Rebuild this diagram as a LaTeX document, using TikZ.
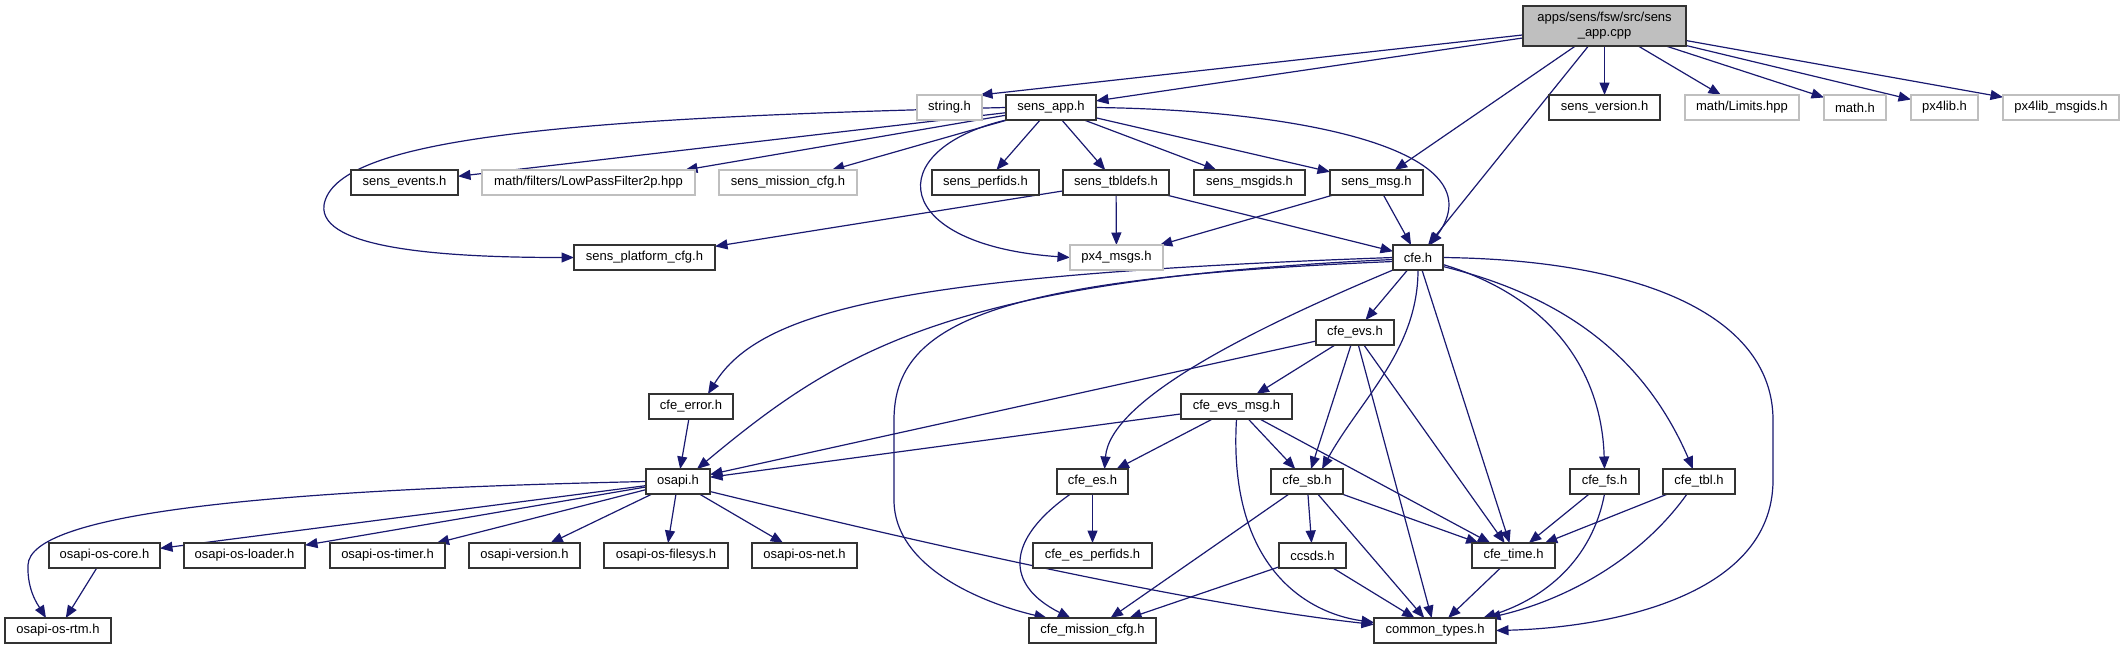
\documentclass[tikz,border=0pt]{standalone}
\usepackage{fontspec}
\setmainfont{Liberation Sans}
\usetikzlibrary{arrows.meta,calc}
\definecolor{edgec}{HTML}{191970}
\definecolor{grayb}{HTML}{BFBFBF}
\definecolor{boxb}{HTML}{333333}
\pgfdeclarelayer{bg}
\pgfsetlayers{bg,main}
\tikzset{
  nb/.style={draw=boxb, line width=1.6pt, fill=white, minimum height=25, inner sep=0pt, outer sep=0pt, font=\fontsize{13}{15}\selectfont},
  ng/.style={nb, draw=grayb},
  e/.style={draw=edgec, line width=1.2pt, -{Triangle[length=12.5pt,width=10pt]}},
}
\begin{document}
\begin{tikzpicture}[x=1pt,y=-1pt]
\useasboundingbox (0,0) rectangle (2124,649);
% rank 0
\node[nb, fill=grayb, minimum width=163, minimum height=40, align=center] (root) at (1604.5,26) {apps/sens/fsw/src/sens\\\_app.cpp};
% rank 1
\node[ng, minimum width=65] (stringh) at (949.5,107.5) {string.h};
\node[nb, minimum width=90] (sapp) at (1051,107.5) {sens\_app.h};
\node[nb, minimum width=111] (sver) at (1604.5,107.5) {sens\_version.h};
\node[ng, minimum width=114] (mlim) at (1742,107.5) {math/Limits.hpp};
\node[ng, minimum width=62] (mathh) at (1855,107.5) {math.h};
\node[ng, minimum width=67] (px4lib) at (1944.5,107.5) {px4lib.h};
\node[ng, minimum width=116] (px4ids) at (2061,107.5) {px4lib\_msgids.h};
% rank 2
\node[nb, minimum width=107] (sevt) at (404.5,182.5) {sens\_events.h};
\node[ng, minimum width=213] (lpf) at (588.5,182.5) {math/filters/LowPassFilter2p.hpp};
\node[ng, minimum width=138] (smis) at (788,182.5) {sens\_mission\_cfg.h};
\node[nb, minimum width=107] (sperf) at (985.5,182.5) {sens\_perfids.h};
\node[nb, minimum width=106] (stbl) at (1116,182.5) {sens\_tbldefs.h};
\node[nb, minimum width=111] (smsgids) at (1249.5,182.5) {sens\_msgids.h};
\node[nb, minimum width=93] (smsg) at (1376.5,182.5) {sens\_msg.h};
% rank 3
\node[nb, minimum width=141] (splat) at (644.5,257.5) {sens\_platform\_cfg.h};
\node[ng, minimum width=93] (px4msgs) at (1116.5,257.5) {px4\_msgs.h};
\node[nb, minimum width=50] (cfe) at (1418,257.5) {cfe.h};
% rank 4
\node[nb, minimum width=78] (evs) at (1355,332.5) {cfe\_evs.h};
% rank 5
\node[nb, minimum width=84] (err) at (691,406.5) {cfe\_error.h};
\node[nb, minimum width=111] (evsmsg) at (1236.5,406.5) {cfe\_evs\_msg.h};
% rank 6
\node[nb, minimum width=64] (osapi) at (678,481.5) {osapi.h};
\node[nb, minimum width=71] (es) at (1092.5,481.5) {cfe\_es.h};
\node[nb, minimum width=72] (sb) at (1307,481.5) {cfe\_sb.h};
\node[nb, minimum width=69] (fs) at (1604.5,481.5) {cfe\_fs.h};
\node[nb, minimum width=72] (tbl) at (1699,481.5) {cfe\_tbl.h};
% rank 7
\node[nb, minimum width=111] (core) at (104.5,555.5) {osapi-os-core.h};
\node[nb, minimum width=121] (loader) at (244.5,555.5) {osapi-os-loader.h};
\node[nb, minimum width=115] (timer) at (387.5,555.5) {osapi-os-timer.h};
\node[nb, minimum width=111] (ver) at (524.5,555.5) {osapi-version.h};
\node[nb, minimum width=124] (filesys) at (666,555.5) {osapi-os-filesys.h};
\node[nb, minimum width=105] (net) at (804.5,555.5) {osapi-os-net.h};
\node[nb, minimum width=119] (esperf) at (1092.5,555.5) {cfe\_es\_perfids.h};
\node[nb, minimum width=67] (ccsds) at (1312.5,555.5) {ccsds.h};
\node[nb, minimum width=83] (time) at (1513.5,555.5) {cfe\_time.h};
% rank 8
\node[nb, minimum width=106] (rtm) at (58,630.5) {osapi-os-rtm.h};
\node[nb, minimum width=127] (mis) at (1092.5,630.5) {cfe\_mission\_cfg.h};
\node[nb, minimum width=122] (ctypes) at (1435,630.5) {common\_types.h};

\begin{pgfonlayer}{bg}
% root edges
\draw[e] (root) -- ([xshift=-2]stringh.north east);
\draw[e] (root) -- (sapp);
\draw[e] (root) -- (sver);
\draw[e] (root) -- (mlim);
\draw[e] (root) -- (mathh);
\draw[e] (root) -- (px4lib);
\draw[e] (root) -- (px4ids);
\draw[e] (root) -- (smsg);
\draw[e] (root) -- (cfe);
% sens_app.h edges
\draw[e] (sapp) -- (sevt);
\draw[e] (sapp) -- ([xshift=-10]lpf.north east);
\draw[e] (sapp) -- (smis);
\draw[e] (sapp) -- (sperf);
\draw[e] (sapp) -- (stbl);
\draw[e] (sapp) -- (smsgids);
\draw[e] (sapp) -- (smsg);
\draw[e] (sapp.west) .. controls (550,118) and (335,140) .. (324,205) .. controls (318,250) and (450,257.5) .. (splat.west);
\draw[e] (sapp.south west) .. controls (880,150) and (890,245) .. (px4msgs.west);
\draw[e] (sapp.east) .. controls (1300,110) and (1500,150) .. ([xshift=12]cfe.north);
% sens_tbldefs / sens_msg
\draw[e] (stbl) -- (splat);
\draw[e] (stbl) -- (px4msgs);
\draw[e] (stbl) -- (cfe);
\draw[e] (smsg) -- (px4msgs);
\draw[e] (smsg) -- (cfe);
% cfe.h edges
\draw[e] (cfe.west) .. controls (900,275) and (760,310) .. ([xshift=17]err.north);
\draw[e] ($(cfe.west)+(0,2)$) .. controls (950,280) and (840,350) .. ([xshift=19]osapi.north);
\draw[e] ($(cfe.west)+(0,4)$) .. controls (1000,278) and (894,320) .. (894,420) -- (894,500) .. controls (894,570) and (990,605) .. ([xshift=18]mis.north west);
\draw[e] (cfe.south west) .. controls (1250,330) and (1110,400) .. ([xshift=12]es.north);
\draw[e] (cfe) -- (evs);
\draw[e] (cfe.south) .. controls (1418,350) and (1360,400) .. ([xshift=15]sb.north);
\draw[e] (cfe) -- (time);
\draw[e] ($(cfe.east)+(0,7)$) .. controls (1560,300) and (1602,380) .. (fs.north);
\draw[e] ($(cfe.east)+(0,9)$) .. controls (1580,300) and (1650,370) .. ([xshift=-6]tbl.north);
\draw[e] (cfe.east) .. controls (1650,260) and (1773,320) .. (1773,420) -- (1773,480) .. controls (1773,600) and (1600,628) .. (ctypes.east);
% cfe_error
\draw[e] (err) -- (osapi);
% cfe_evs
\draw[e] (evs) -- (osapi);
\draw[e] (evs) -- (evsmsg);
\draw[e] (evs) -- (sb);
\draw[e] (evs) -- (ctypes);
\draw[e] (evs) -- (time);
% cfe_evs_msg
\draw[e] (evsmsg) -- (osapi);
\draw[e] (evsmsg) -- (es);
\draw[e] (evsmsg) -- (sb);
\draw[e] (evsmsg.south) .. controls (1228,560) and (1300,612) .. ($(ctypes.west)+(0,-8)$);
\draw[e] (evsmsg) -- (time);
% osapi
\draw[e] (osapi.west) .. controls (250,490) and (30,515) .. (28,565) .. controls (27,590) and (38,605) .. ([xshift=-12]rtm.north);
\draw[e] (osapi) -- (core);
\draw[e] (osapi) -- (loader);
\draw[e] (osapi) -- (timer);
\draw[e] (osapi) -- (ver);
\draw[e] (osapi) -- (filesys);
\draw[e] (osapi) -- (net);
\draw[e] ($(osapi.east)+(0,10)$) .. controls (950,550) and (1200,605) .. ($(ctypes.west)+(0,-6)$);
\draw[e] (core) -- (rtm);
% cfe_es
\draw[e] (es) -- (esperf);
\draw[e] ([xshift=-22]es.south) .. controls (1005,540) and (1005,585) .. ([xshift=-22]mis.north);
% cfe_sb
\draw[e] (sb) -- (ccsds);
\draw[e] (sb) -- (mis);
\draw[e] (sb) -- (ctypes);
\draw[e] (sb) -- (time);
% ccsds
\draw[e] (ccsds) -- (mis);
\draw[e] (ccsds) -- (ctypes);
% cfe_time
\draw[e] (time) -- (ctypes);
% cfe_fs, cfe_tbl
\draw[e] (fs) -- (time);
\draw[e] (fs.south) .. controls (1592,560) and (1545,598) .. ([xshift=48]ctypes.north);
\draw[e] (tbl) -- (time);
\draw[e] ([xshift=-12]tbl.south) .. controls (1640,560) and (1565,600) .. ([xshift=53]ctypes.north);
\end{pgfonlayer}
\end{tikzpicture}
\end{document}
